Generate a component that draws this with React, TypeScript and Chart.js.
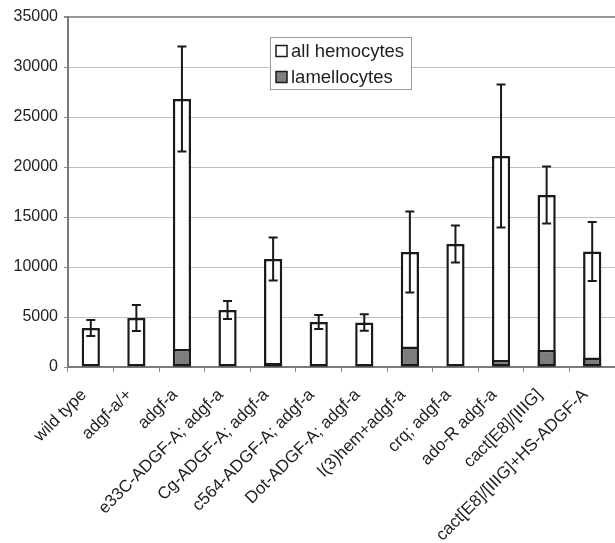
import React, { useEffect, useRef } from "react";
import { Chart, registerables } from "chart.js";

Chart.register(...registerables);

const categories = [
  "wild type",
  "adgf-a/+",
  "adgf-a",
  "e33C-ADGF-A; adgf-a",
  "Cg-ADGF-A; adgf-a",
  "c564-ADGF-A; adgf-a",
  "Dot-ADGF-A; adgf-a",
  "l(3)hem+adgf-a",
  "crq; adgf-a",
  "ado-R adgf-a",
  "cact[E8]/[IIIG]",
  "cact[E8]/[IIIG]+HS-ADGF-A",
];
const allHemocytes = [3900, 4900, 26800, 5700, 10800, 4500, 4450, 11500, 12300, 21100, 17200, 11550];
const allHemocytesError = [800, 1300, 5250, 900, 2150, 700, 830, 4050, 1850, 7150, 2850, 2950];
const lamellocytes = [0, 60, 1800, 0, 400, 150, 150, 2050, 0, 700, 1700, 950];
const legendLabels = ["all hemocytes", "lamellocytes"];
const yTicks = [0, 5000, 10000, 15000, 20000, 25000, 30000, 35000];

const FONT = "'Liberation Sans', Arial, sans-serif";

const errorBarPlugin = {
  id: "errorBars",
  afterDatasetsDraw(chart: any) {
    const meta = chart.getDatasetMeta(0);
    const y = chart.scales.y;
    const ctx = chart.ctx;
    ctx.save();
    ctx.strokeStyle = "#1a1a1a";
    ctx.lineWidth = 2;
    meta.data.forEach((bar: any, i: number) => {
      const v = allHemocytes[i];
      const e = allHemocytesError[i];
      const x = bar.x;
      const yTop = y.getPixelForValue(v + e);
      const yBot = y.getPixelForValue(v - e);
      const cap = 4.5;
      ctx.beginPath();
      ctx.moveTo(x, yTop);
      ctx.lineTo(x, yBot);
      ctx.moveTo(x - cap, yTop);
      ctx.lineTo(x + cap, yTop);
      ctx.moveTo(x - cap, yBot);
      ctx.lineTo(x + cap, yBot);
      ctx.stroke();
    });
    ctx.restore();
  },
};

const legendPlugin = {
  id: "boxLegend",
  afterDraw(chart: any) {
    const ctx = chart.ctx;
    const bx = 270.5;
    const by = 37.5;
    const bw = 141;
    const bh = 52;
    ctx.save();
    ctx.fillStyle = "#ffffff";
    ctx.fillRect(bx, by, bw, bh);
    ctx.strokeStyle = "#9a9a9a";
    ctx.lineWidth = 1;
    ctx.strokeRect(bx, by, bw, bh);
    const fills = ["#ffffff", "#808080"];
    const rows = [51, 77];
    ctx.font = `18.5px ${FONT}`;
    ctx.textBaseline = "middle";
    ctx.textAlign = "left";
    legendLabels.forEach((lab, i) => {
      const cy = rows[i];
      ctx.fillStyle = fills[i];
      ctx.fillRect(276, cy - 5.5, 11, 11);
      ctx.strokeStyle = "#1a1a1a";
      ctx.lineWidth = 1.5;
      ctx.strokeRect(276, cy - 5.5, 11, 11);
      ctx.fillStyle = "#1f1f1f";
      ctx.fillText(lab, 291, cy + 1);
    });
    ctx.restore();
  },
};

export default function App() {
  const ref = useRef<HTMLCanvasElement>(null);
  useEffect(() => {
    if (!ref.current) return;
    const chart = new Chart(ref.current, {
      type: "bar",
      data: {
        labels: categories,
        datasets: [
          {
            label: legendLabels[0],
            data: allHemocytes,
            backgroundColor: "#ffffff",
            borderColor: "#1a1a1a",
            borderWidth: 2.5,
            borderSkipped: false,
            grouped: false,
            barPercentage: 0.4,
            categoryPercentage: 1,
            order: 1,
          },
          {
            label: legendLabels[1],
            data: lamellocytes,
            backgroundColor: "#7d7d7d",
            borderColor: "#1a1a1a",
            borderWidth: 2.5,
            borderSkipped: false,
            grouped: false,
            barPercentage: 0.4,
            categoryPercentage: 1,
            order: 0,
          },
        ] as any,
      },
      options: {
        responsive: false,
        animation: false,
        layout: { padding: { top: 17, right: 0, left: 0, bottom: 0 } },
        plugins: {
          legend: { display: false },
          tooltip: { enabled: false },
        },
        scales: {
          x: {
            offset: true,
            grid: {
              display: true,
              offset: true,
              drawOnChartArea: false,
              drawTicks: true,
              tickLength: 5,
              color: "#8a8a8a",
            },
            border: { display: true, color: "#7a7a7a", width: 2 },
            ticks: {
              autoSkip: false,
              minRotation: 45,
              maxRotation: 45,
              padding: 13,
              labelOffset: -7,
              color: "#1f1f1f",
              font: { family: FONT, size: 17 },
            },
            afterFit(scale: any) {
              scale.height = 176;
              scale.paddingRight = 0;
              scale.paddingLeft = 0;
            },
          },
          y: {
            min: 0,
            max: 35000,
            afterBuildTicks(scale: any) {
              scale.ticks = yTicks.map((v) => ({ value: v }));
            },
            grid: {
              color: (c: any) => (c.tick && c.tick.value === 35000 ? "#9a9a9a" : "#c0c0c0"),
              lineWidth: (c: any) => (c.tick && c.tick.value === 35000 ? 2 : 1),
              tickLength: 4,
              tickColor: "#8a8a8a",
            },
            border: { display: true, color: "#7a7a7a", width: 2 },
            ticks: {
              padding: 6,
              color: "#1f1f1f",
              font: { family: FONT, size: 16 },
              callback: (v: any) => String(v),
            },
            afterFit(scale: any) {
              scale.width = 68;
            },
          },
        },
      },
      plugins: [errorBarPlugin, legendPlugin],
    });
    return () => chart.destroy();
  }, []);
  return (
    <div style={{ position: "absolute", left: 0, top: 0, width: 615, height: 543, background: "#fff" }}>
      <canvas ref={ref} width={615} height={543} />
    </div>
  );
}
